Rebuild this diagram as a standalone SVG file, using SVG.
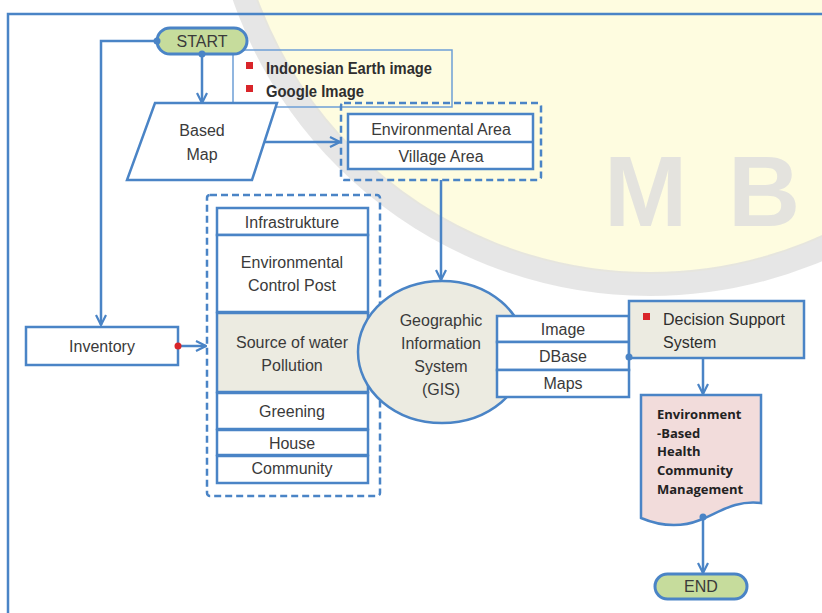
<svg xmlns="http://www.w3.org/2000/svg" width="822" height="613" viewBox="0 0 822 613">
<defs>
<style>
.t{font-family:"Liberation Sans",Arial,sans-serif;font-size:16px;fill:#3a3a3a;text-anchor:middle}
.tl{font-family:"Liberation Sans",Arial,sans-serif;font-size:16px;fill:#2e2e2e}
.tb{font-family:"Open Sans","Liberation Sans",Arial,sans-serif;font-size:13px;font-weight:bold;fill:#222}
.box{fill:#fff;stroke:#4a84c6;stroke-width:2.5}
.beige{fill:#ecebe1;stroke:#4a84c6;stroke-width:2.5}
.pill{fill:#c6dc9c;stroke:#4a84c6;stroke-width:3}
.dash{fill:none;stroke:#4a84c6;stroke-width:2.5;stroke-dasharray:7 4}
.ln{fill:none;stroke:#4a84c6;stroke-width:2.5}
.dot{fill:#4a84c6}
.rdot{fill:#d9252a}
.wm{font-family:"Liberation Sans",Arial,sans-serif;font-weight:bold;font-size:100px;fill:#dedede;opacity:0.8}
</style>
<marker id="arr" viewBox="0 0 12 12" refX="11" refY="6" markerWidth="12" markerHeight="12" markerUnits="userSpaceOnUse" orient="auto">
<path d="M1,1 L11,6 L1,11" fill="none" stroke="#4a84c6" stroke-width="2.2"/>
</marker>
</defs>
<rect width="822" height="613" fill="#fff"/>
<g id="watermark">
<circle cx="650" cy="-146" r="420" fill="#fefce0"/>
<circle cx="650" cy="-146" r="430" fill="none" stroke="#dedede" stroke-width="24" opacity="0.75"/>
<text class="wm" x="604" y="226">M</text>
<text class="wm" x="728" y="226">B</text>
</g>
<g id="frame">
<path class="ln" d="M8,613 V14 H822"/>
</g>
<g id="connectors">
<path class="ln" d="M157,41 H101 V325" marker-end="url(#arr)"/>
<path class="ln" d="M202,54 V103" marker-end="url(#arr)"/>
<path class="ln" d="M264,142 H340" marker-end="url(#arr)"/>
<path class="ln" d="M441,180 V280" marker-end="url(#arr)"/>
<path class="ln" d="M178,346 H206" marker-end="url(#arr)"/>
<path class="ln" d="M703,358 V394" marker-end="url(#arr)"/>
<path class="ln" d="M703,517 V573" marker-end="url(#arr)"/>
</g>
<g id="sources">
<rect x="233" y="50" width="219" height="57" fill="none" stroke="#6d9fd6" stroke-width="1.5"/>
<rect class="rdot" x="246" y="62" width="7" height="7"/>
<rect class="rdot" x="246" y="85" width="7" height="7"/>
<text class="tl" x="266" y="74" font-weight="bold" textLength="166" lengthAdjust="spacingAndGlyphs">Indonesian Earth image</text>
<text class="tl" x="266" y="97" font-weight="bold" textLength="98" lengthAdjust="spacingAndGlyphs">Google Image</text>
</g>
<g id="start">
<rect class="pill" x="157" y="28" width="90" height="26" rx="13"/>
<text class="t" x="202" y="47">START</text>
</g>
<g id="based-map">
<polygon class="box" points="155,103 277,103 252,180 127,180"/>
<text class="t" x="202" y="136">Based</text>
<text class="t" x="202" y="160">Map</text>
</g>
<g id="area">
<rect class="dash" x="341" y="103" width="200" height="77" rx="3"/>
<rect class="box" x="348" y="114" width="185" height="55" fill="#fefce0"/>
<line class="ln" x1="348" y1="142" x2="533" y2="142"/>
<text class="t" x="441" y="135">Environmental Area</text>
<text class="t" x="441" y="162">Village Area</text>
</g>
<g id="inventory">
<rect class="box" x="26" y="327" width="152" height="38"/>
<text class="t" x="102" y="352">Inventory</text>
</g>
<g id="objects">
<rect class="dash" x="207" y="195" width="173" height="301" rx="3"/>
<rect class="box" x="217" y="208" width="151" height="27"/>
<text class="t" x="292" y="228">Infrastrukture</text>
<rect class="box" x="217" y="235" width="151" height="77"/>
<text class="t" x="292" y="268">Environmental</text>
<text class="t" x="292" y="291">Control Post</text>
<rect class="beige" x="217" y="313" width="151" height="79"/>
<text class="t" x="292" y="348">Source of water</text>
<text class="t" x="292" y="371">Pollution</text>
<rect class="box" x="217" y="393" width="151" height="36"/>
<text class="t" x="292" y="417">Greening</text>
<rect class="box" x="217" y="430" width="151" height="25"/>
<text class="t" x="292" y="449">House</text>
<rect class="box" x="217" y="456" width="151" height="27"/>
<text class="t" x="292" y="474">Community</text>
</g>
<g id="gis">
<ellipse class="beige" cx="442" cy="352" rx="84" ry="71"/>
<text class="t" x="441" y="326">Geographic</text>
<text class="t" x="441" y="349">Information</text>
<text class="t" x="441" y="372">System</text>
<text class="t" x="441" y="395">(GIS)</text>
</g>
<g id="data">
<rect class="box" x="497" y="316" width="132" height="26"/>
<text class="t" x="563" y="335">Image</text>
<rect class="box" x="497" y="342" width="132" height="28"/>
<text class="t" x="563" y="362">DBase</text>
<rect class="box" x="497" y="370" width="132" height="27"/>
<text class="t" x="563" y="389">Maps</text>
</g>
<g id="dss">
<rect class="beige" x="629" y="301" width="175" height="57"/>
<rect class="rdot" x="643" y="313" width="7" height="7"/>
<text class="tl" x="663" y="325">Decision Support</text>
<text class="tl" x="663" y="348">System</text>
</g>
<g id="document">
<path d="M641,395 H761 V503 C735,500 720,512 700,520 C680,528 660,526 641,518 Z" fill="#f2dcdb" stroke="#4a84c6" stroke-width="2.5"/>
<text class="tb" x="657" y="419">Environment</text>
<text class="tb" x="657" y="438">-Based</text>
<text class="tb" x="657" y="456">Health</text>
<text class="tb" x="657" y="475">Community</text>
<text class="tb" x="657" y="494">Management</text>
</g>
<g id="end">
<rect class="pill" x="655" y="574" width="92" height="25" rx="12.5"/>
<text class="t" x="701" y="592">END</text>
</g>
<g id="ports">
<circle class="dot" cx="157" cy="41" r="3.5"/>
<circle class="dot" cx="202" cy="54" r="3.5"/>
<circle class="rdot" cx="178" cy="346" r="3.5"/>
<circle class="dot" cx="629" cy="357" r="3.5"/>
<circle class="dot" cx="703" cy="517" r="3.5"/>
</g>
</svg>
